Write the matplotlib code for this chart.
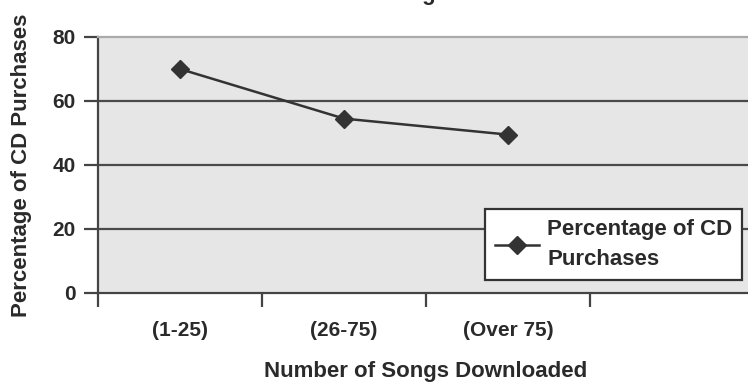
import matplotlib
matplotlib.use("Agg")
import matplotlib.pyplot as plt
from matplotlib.ticker import FixedLocator, NullFormatter, FixedFormatter

plt.rcParams['font.family'] = ['Liberation Sans', 'DejaVu Sans']
plt.rcParams['font.weight'] = 'bold'

title = "Effect of Downloading on Retail Sales"
categories = ["(1-25)", "(26-75)", "(Over 75)"]
series_label = "Percentage of CD\nPurchases"
values = [70.0, 54.5, 49.5]
y_ticks = [0, 20, 40, 60, 80]

W, H = 748, 386
fig = plt.figure(figsize=(W / 100, H / 100), dpi=100)
left, top, bottom, ncat = 98, 37, 293, 4
slot = 164
ax = fig.add_axes([left / W, (H - bottom) / H, ncat * slot / W, (bottom - top) / H])
ax.set_facecolor('#e6e6e6')

txt = '#2a2a2a'
dark = '#444444'

x = list(range(1, len(categories) + 1))
ax.plot(x, values, color='#333333', lw=1.8, marker='D', ms=9,
        markerfacecolor='#333333', markeredgecolor='#333333', label=series_label, zorder=3)

ax.set_xlim(0.5, ncat + 0.5)
ax.set_ylim(0, 80)

# horizontal gridlines
for v in y_ticks[1:-1]:
    ax.axhline(v, color='#4a4a4a', lw=1.6, zorder=1)

ax.spines['right'].set_visible(False)
ax.spines['top'].set_color('#aaaaaa')
ax.spines['top'].set_linewidth(1.6)
for s in ['left', 'bottom']:
    ax.spines[s].set_color(dark)
    ax.spines[s].set_linewidth(1.6)

ax.set_yticks(y_ticks)
ax.set_yticklabels([str(v) for v in y_ticks])
ax.tick_params(axis='y', length=10, width=1.6, color=dark, pad=6, labelsize=15, labelcolor=txt)

# category boundaries get tick marks, category centres get the labels
ax.xaxis.set_major_locator(FixedLocator([i + 0.5 for i in range(ncat + 1)]))
ax.xaxis.set_major_formatter(NullFormatter())
ax.xaxis.set_minor_locator(FixedLocator(x))
ax.xaxis.set_minor_formatter(FixedFormatter(categories))
ax.tick_params(axis='x', which='major', length=10, width=1.6, color=dark)
ax.tick_params(axis='x', which='minor', length=0, pad=20, labelsize=15, labelcolor=txt)

ax.set_xlabel("Number of Songs Downloaded", fontsize=16, fontweight='bold', color=txt, va='center')
ax.xaxis.set_label_coords(0.5, -(372 - bottom) / (bottom - top))
ax.set_ylabel("Percentage of CD Purchases", fontsize=16, fontweight='bold', color=txt, va='center')
ax.yaxis.set_label_coords(-(left - 22) / (ncat * slot), 0.5)

leg = ax.legend(loc='upper left', bbox_to_anchor=(485 / W, 1 - 209 / H),
                bbox_transform=fig.transFigure, borderaxespad=0, fancybox=False,
                framealpha=1, edgecolor='#333333', fontsize=16, handlelength=2.0,
                handletextpad=0.35, borderpad=0.45, labelspacing=0.3)
leg.get_frame().set_linewidth(1.6)
for t in leg.get_texts():
    t.set_color(txt)
    t.set_linespacing(1.55)

fig.text(400 / W, 1.0, title, ha='center', va='baseline', fontsize=16, color=txt)

fig.savefig("out.png", dpi=100)
